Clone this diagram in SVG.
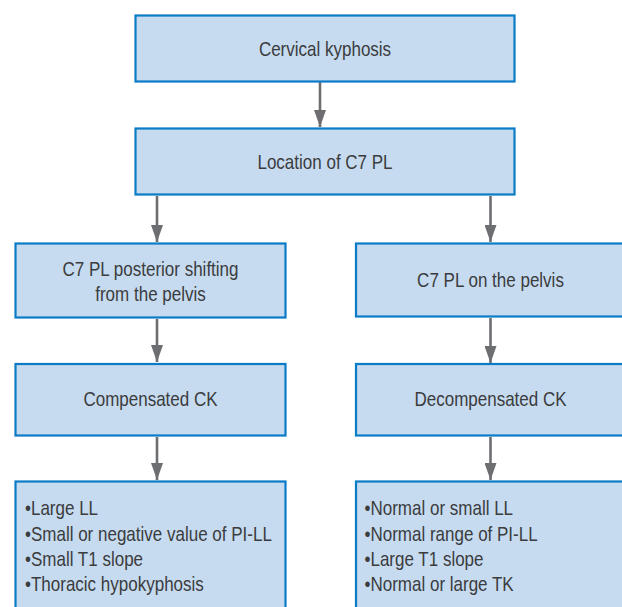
<svg xmlns="http://www.w3.org/2000/svg" width="622" height="607" viewBox="0 0 622 607">
<style>
.box{fill:#c6dbef;stroke:#0a7bc6;stroke-width:2.2}
.t{font-family:"Liberation Sans",Arial,sans-serif;font-size:21px;fill:#3b3c3e}
.c{text-anchor:middle}
.arr{stroke:#6d6e71;stroke-width:2.6;fill:none}
</style>
<defs>
<marker id="ah" viewBox="0 0 17 12" refX="17" refY="6" markerWidth="17" markerHeight="12" markerUnits="userSpaceOnUse" orient="auto">
<path d="M0,0 L17,6 L0,12 z" fill="#6d6e71"/>
</marker>
</defs>
<rect width="622" height="607" fill="#ffffff"/>
<g id="connectors">
<line class="arr" x1="320" y1="82" x2="320" y2="127" marker-end="url(#ah)"/>
<line class="arr" x1="157" y1="196" x2="157" y2="242" marker-end="url(#ah)"/>
<line class="arr" x1="490.5" y1="196" x2="490.5" y2="242" marker-end="url(#ah)"/>
<line class="arr" x1="157" y1="319" x2="157" y2="362" marker-end="url(#ah)"/>
<line class="arr" x1="490.5" y1="318" x2="490.5" y2="363" marker-end="url(#ah)"/>
<line class="arr" x1="157" y1="437" x2="157" y2="480" marker-end="url(#ah)"/>
<line class="arr" x1="490.5" y1="437" x2="490.5" y2="480" marker-end="url(#ah)"/>
</g>
<g id="n1">
<rect class="box" x="135.5" y="15.5" width="379" height="66"/>
<text class="t c" transform="translate(325 56) scale(0.81 1)">Cervical kyphosis</text>
</g>
<g id="n2">
<rect class="box" x="135.5" y="128.5" width="379" height="66"/>
<text class="t c" transform="translate(325 169) scale(0.81 1)">Location of C7 PL</text>
</g>
<g id="n3">
<rect class="box" x="15.5" y="243.5" width="270" height="74"/>
<text class="t c" transform="translate(150.5 275.5) scale(0.81 1)">C7 PL posterior shifting</text>
<text class="t c" transform="translate(150.5 300.5) scale(0.81 1)">from the pelvis</text>
</g>
<g id="n4">
<rect class="box" x="356" y="243.5" width="270" height="73"/>
<text class="t c" transform="translate(490.5 287) scale(0.81 1)">C7 PL on the pelvis</text>
</g>
<g id="n5">
<rect class="box" x="15.5" y="364" width="270" height="71.5"/>
<text class="t c" transform="translate(150.5 406) scale(0.81 1)">Compensated CK</text>
</g>
<g id="n6">
<rect class="box" x="356" y="364" width="270" height="71.5"/>
<text class="t c" transform="translate(490.5 406) scale(0.81 1)">Decompensated CK</text>
</g>
<g id="n7">
<rect class="box" x="15.5" y="481.5" width="270" height="140"/>
<text class="t" transform="translate(25 515) scale(0.81 1)">•Large LL</text>
<text class="t" transform="translate(25 540.5) scale(0.81 1)">•Small or negative value of PI-LL</text>
<text class="t" transform="translate(25 566) scale(0.81 1)">•Small T1 slope</text>
<text class="t" transform="translate(25 591) scale(0.81 1)">•Thoracic hypokyphosis</text>
</g>
<g id="n8">
<rect class="box" x="356" y="481.5" width="270" height="140"/>
<text class="t" transform="translate(364.5 515) scale(0.81 1)">•Normal or small LL</text>
<text class="t" transform="translate(364.5 540.5) scale(0.81 1)">•Normal range of PI-LL</text>
<text class="t" transform="translate(364.5 566) scale(0.81 1)">•Large T1 slope</text>
<text class="t" transform="translate(364.5 591) scale(0.81 1)">•Normal or large TK</text>
</g>
</svg>
